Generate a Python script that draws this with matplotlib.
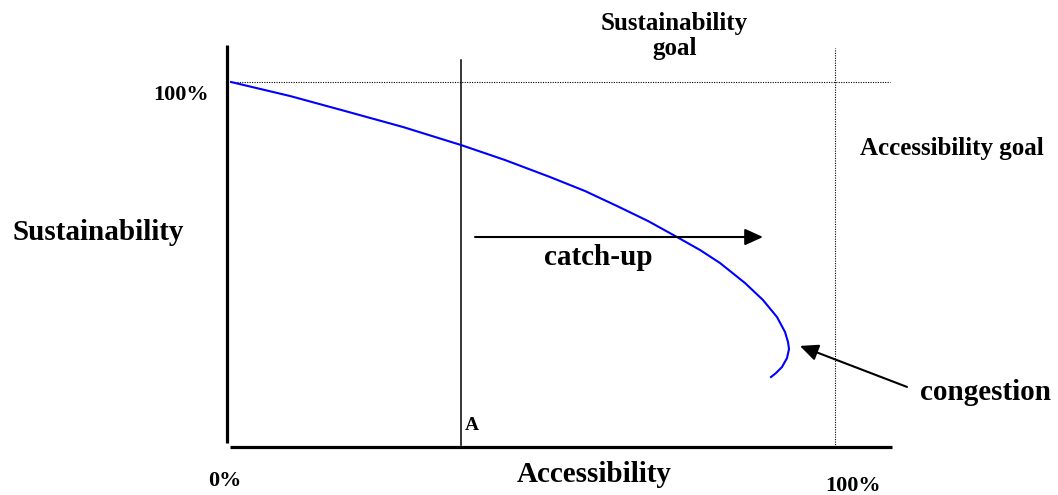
import numpy as np
import matplotlib
matplotlib.use("Agg")
import matplotlib.pyplot as plt

plt.rcParams['font.family'] = ['Liberation Serif', 'DejaVu Serif']
plt.rcParams['font.weight'] = 'bold'

# curve (accessibility %, sustainability %)
curve_x = [0.17, 9.92, 19.01, 28.60, 38.18, 45.45, 52.89, 58.68, 63.97, 69.09, 73.88,
           77.69, 80.99, 85.12, 88.10, 90.41, 91.74, 92.23, 92.40, 92.07, 91.24, 90.25, 89.42]
curve_y = [100.0, 96.14, 92.01, 87.60, 82.64, 78.51, 73.83, 69.97, 65.84, 61.71, 57.30,
           53.72, 50.14, 44.63, 39.94, 35.26, 31.13, 28.37, 26.45, 23.97, 21.49, 19.83, 18.73]

point_a = 38.2          # position of line "A"
goal_access = 100       # accessibility goal
goal_sust = 100         # sustainability goal

catchup_from = (40.5, 57.3)
catchup_to = (88.1, 57.3)
cong_from = (111.9, 16.0)
cong_to = (94.2, 27.3)

fig = plt.figure(figsize=(10.58, 4.95), dpi=100)
ax = fig.add_axes([0, 0, 1, 1])
ax.set_xlim(-38.02, 136.86)
ax.set_ylim(-13.77, 122.59)
ax.axis('off')

# axes drawn by hand
ax.plot([-0.5, -0.5], [0.55, 110.2], color='black', lw=2.3, solid_capstyle='butt')
ax.plot([0, 109.4], [-0.55, -0.55], color='black', lw=2.3, solid_capstyle='butt')

# goals (dotted) and point A
ax.plot([0.3, 109.1], [goal_sust, goal_sust], color='black', lw=0.8, ls=(0, (1, 1.2)))
ax.plot([goal_access, goal_access], [-0.55, 109.4], color='black', lw=0.8, ls=(0, (1, 1.2)))
ax.plot([point_a, point_a], [0, 106.1], color='black', lw=1.1)

ax.plot(curve_x, curve_y, color='#0000ff', lw=1.5, solid_joinstyle='round')

arrow = dict(arrowstyle='-|>,head_length=1.1,head_width=0.5', mutation_scale=10,
             color='black', lw=1.5, shrinkA=0, shrinkB=0)
ax.annotate('', xy=catchup_to, xytext=catchup_from, arrowprops=arrow)
ax.annotate('', xy=cong_to, xytext=cong_from, arrowprops=arrow)

ax.text(-8.1, 96.4, '100%', fontsize=16, ha='center', va='center')
ax.text(-36.0, 56.5, 'Sustainability', fontsize=21, ha='left', va='baseline')
ax.text(-0.8, -9.9, '0%', fontsize=16, ha='center', va='center')
ax.text(47.4, -10.2, 'Accessibility', fontsize=21, ha='left', va='baseline')
ax.text(103.0, -11.3, '100%', fontsize=16, ha='center', va='center')
ax.text(38.8, 4.1, 'A', fontsize=14, ha='left', va='baseline')
ax.text(51.9, 49.6, 'catch-up', fontsize=21, ha='left', va='baseline')
ax.text(114.0, 12.4, 'congestion', fontsize=21, ha='left', va='baseline')
ax.text(104.1, 79.9, 'Accessibility goal', fontsize=18, ha='left', va='baseline')
ax.text(73.5, 114.3, 'Sustainability', fontsize=18, ha='center', va='baseline')
ax.text(73.5, 107.4, 'goal', fontsize=18, ha='center', va='baseline')

fig.savefig('out.png', dpi=100)
